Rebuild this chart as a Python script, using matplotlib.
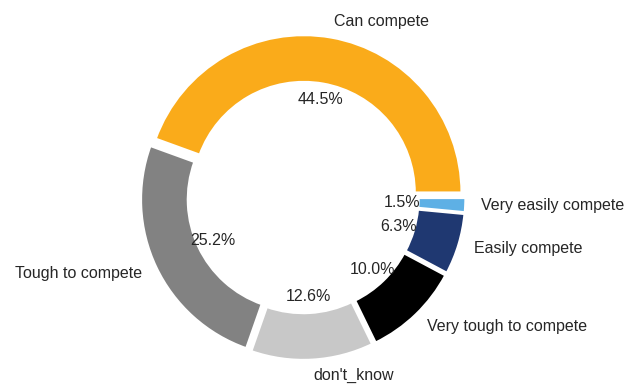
import matplotlib
matplotlib.use("Agg")
import matplotlib.pyplot as plt

categorias = [
    "Can compete",
    "Tough to compete",
    "don't_know",
    "Very tough to compete",
    "Easily compete",
    "Very easily compete",
]
percentuais = [44.5, 25.2, 12.6, 10.0, 6.3, 1.5]
cores = ["#FAAB1A", "#828282", "#C8C8C8", "#000000", "#1F3871", "#5EB0E5"]

plt.rcParams["font.family"] = ["Liberation Sans", "DejaVu Sans"]

fig = plt.figure(figsize=(6.29, 3.87), dpi=100)
# eixo posicionado em pixels: centro do anel em (303, 197.5), raio de 158 px
raio_px = 158
lim = 1.25
lado = 2 * lim * raio_px
cx, cy = 303, 387 - 197.5
ax = fig.add_axes([(cx - lado / 2) / 629, (cy - lado / 2) / 387, lado / 629, lado / 387])

ax.pie(
    percentuais,
    labels=categorias,
    colors=cores,
    startangle=0,
    counterclock=True,
    explode=[0.03] * len(percentuais),
    autopct="%1.1f%%",
    pctdistance=0.6,
    labeldistance=1.1,
    wedgeprops={"width": 0.3, "edgecolor": "white", "linewidth": 2},
    textprops={"fontsize": 11.5, "color": "#262626"},
)
ax.set_xlim(-lim, lim)
ax.set_ylim(-lim, lim)
ax.set_aspect("equal")
ax.axis("off")

fig.savefig("out.png", dpi=100)
